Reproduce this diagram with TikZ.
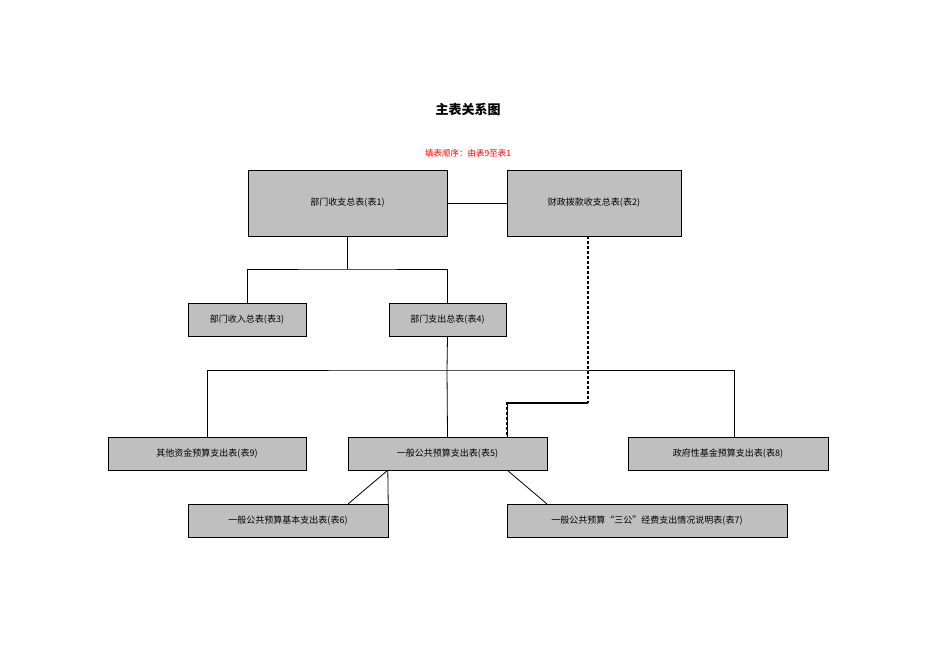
\documentclass[tikz,border=0pt]{standalone}
\usepackage{fontspec}
\setmainfont{Noto Sans CJK SC}
\tikzset{
  tbl/.style={draw, fill=gray!50, inner sep=0pt, font=\fontsize{9}{10}\selectfont},
  conn/.style={line width=0.8pt},
  dconn/.style={line width=1.4pt, dashed, dash pattern=on 3pt off 2pt}
}
\begin{document}
\begin{tikzpicture}[x=1pt, y=-1pt]
    \useasboundingbox (0,0) rectangle (936,662);
    % Title
    \node[font=\bfseries\fontsize{13}{15}\selectfont] (title) at (468,109) {主表关系图};
    \node[text=red, font=\fontsize{8.5}{10}\selectfont] (order) at (468,153) {填表顺序：由表9至表1};
    
    % Tables
    \node[tbl, minimum width=199pt, minimum height=66pt] (t1) at (347.5,203) {部门收支总表(表1)};
    \node[tbl, minimum width=174pt, minimum height=66pt] (t2) at (594,203) {财政拨款收支总表(表2)};
    \node[tbl, minimum width=118pt, minimum height=33pt] (t3) at (247,319.5) {部门收入总表(表3)};
    \node[tbl, minimum width=117pt, minimum height=33pt] (t4) at (447.5,319.5) {部门支出总表(表4)};
    \node[tbl, minimum width=198pt, minimum height=33pt] (t9) at (207,453.5) {其他资金预算支出表(表9)};
    \node[tbl, minimum width=199pt, minimum height=33pt] (t5) at (447.5,453.5) {一般公共预算支出表(表5)};
    \node[tbl, minimum width=200pt, minimum height=33pt] (t8) at (728,453.5) {政府性基金预算支出表(表8)};
    \node[tbl, minimum width=200pt, minimum height=33pt] (t6) at (288,520.5) {一般公共预算基本支出表(表6)};
    \node[tbl, minimum width=280pt, minimum height=33pt] (t7) at (647,520.5) {一般公共预算“三公”经费支出情况说明表(表7)};
    
    % Junctions
    \coordinate (j1) at (347.5,269);
    \coordinate (j4) at (447,370);
    \coordinate (j2) at (588,403);
    
    % Solid connections
    \draw[conn] (t1.east) -- (t2.west);
    \draw[conn] (t1.south) -- (j1);
    \draw[conn] (t3.north) |- (j1) -| (t4.north);
    \draw[conn] (t4.south) -- (j4);
    \draw[conn] (t9.north) |- (j4) -| (t8.north -| 734,0);
    \draw[conn] (j4) -- (t5.north);
    \draw[conn] (t5.south west) ++(40,0) coordinate (a6) -- (t6.north east) ++(-40,0);
    \draw[conn] (a6) -- ([xshift=-40pt]t6.north east);
    \draw[conn] ([xshift=-40pt]t5.south east) -- ([xshift=40pt]t7.north west);
    
    % Dashed connections
    \draw[dconn] (t2.south -| j2) -- (j2);
    \draw[dconn] ([xshift=-40pt]t5.north east) |- (j2) -| (t2.west |- t8.north);
\end{tikzpicture}
\end{document}
